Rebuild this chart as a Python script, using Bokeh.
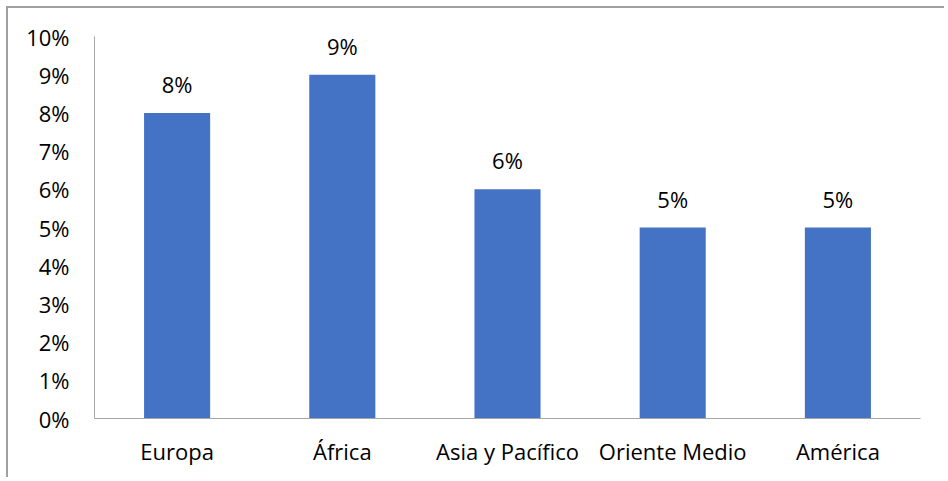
from bokeh.plotting import figure
from bokeh.models import FactorRange, Range1d, FixedTicker, NumeralTickFormatter, ColumnDataSource, LabelSet
from bokeh.core.properties import value
from bokeh.embed import file_html
from bokeh.resources import INLINE

categories = ["Europa", "África", "Asia y Pacífico", "Oriente Medio", "América"]
values = [0.08, 0.09, 0.06, 0.05, 0.05]
labels = [f"{v:.0%}" for v in values]
y_ticks = [i / 100 for i in range(0, 11)]

FONT = "Open Sans"

source = ColumnDataSource(data=dict(cat=categories, val=values, lab=labels))

p = figure(
    width=938, height=471,
    x_range=FactorRange(factors=categories, range_padding=0),
    y_range=Range1d(0, 0.1),
    output_backend="svg", toolbar_location=None,
    min_border_left=86, min_border_right=26, min_border_top=28, min_border_bottom=61,
)
p.styles = {"border-left": "2px solid #a0a0a0", "border-top": "2px solid #a0a0a0",
            "margin-left": "6px", "margin-top": "6px"}

p.vbar(x="cat", top="val", width=0.4, source=source, color="#4472C4", line_color=None)

p.add_layout(LabelSet(x="cat", y="val", text="lab", source=source, text_align="center",
                      text_baseline="bottom", y_offset=14, text_font=value(FONT),
                      text_font_size="22px", text_color="#000000"))

p.outline_line_color = None
p.xgrid.grid_line_color = None
p.ygrid.grid_line_color = None

p.yaxis.ticker = FixedTicker(ticks=y_ticks)
p.yaxis.formatter = NumeralTickFormatter(format="0%")
for ax in (p.xaxis, p.yaxis):
    ax.axis_line_color = "#a6a6a6"
    ax.axis_line_width = 1
    ax.major_tick_line_color = None
    ax.minor_tick_line_color = None
    ax.major_label_text_font = FONT
    ax.major_label_text_font_size = "22px"
    ax.major_label_text_color = "#000000"
p.yaxis.major_label_standoff = 19
p.xaxis.major_label_standoff = 11

open("out.html", "w").write(file_html(p, INLINE))
